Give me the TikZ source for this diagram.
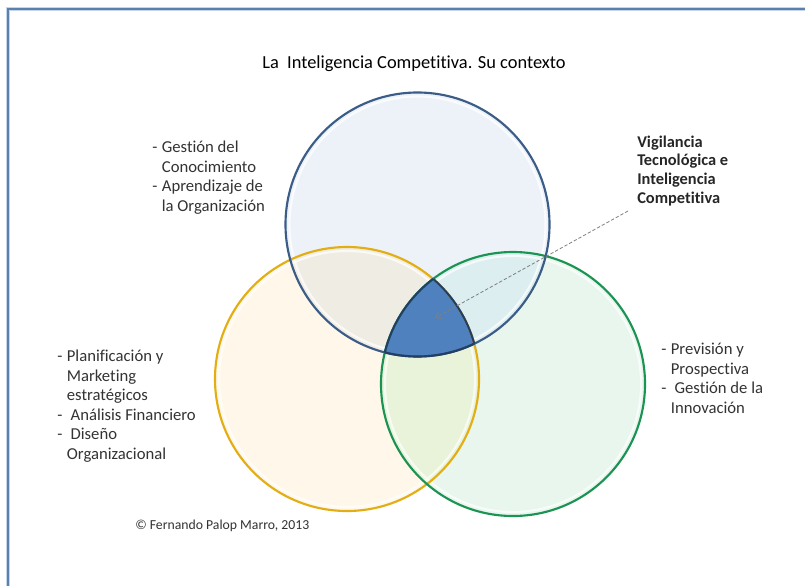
\documentclass[tikz,border=0pt]{standalone}
\usepackage{fontspec}
\setmainfont{Carlito}[Ligatures=CommonOff]
\usetikzlibrary{arrows.meta}
\definecolor{bluefill}{HTML}{EDF2F9}
\definecolor{bluerim}{HTML}{AFC4DF}
\definecolor{blueline}{HTML}{3A5C87}
\definecolor{yelfill}{HTML}{FFF8EA}
\definecolor{yelrim}{HTML}{F6D77A}
\definecolor{yelline}{HTML}{E2AE14}
\definecolor{grnfill}{HTML}{E8F6EE}
\definecolor{grnrim}{HTML}{A6DABB}
\definecolor{grnline}{HTML}{1B9352}
\definecolor{byfill}{HTML}{EFEDE3}
\definecolor{bgfill}{HTML}{DCEEF0}
\definecolor{ygfill}{HTML}{E8F3DA}
\definecolor{corefill}{HTML}{4F81BF}
\definecolor{coreline}{HTML}{243F66}
\definecolor{framecol}{HTML}{5B80AE}
\definecolor{framelight}{HTML}{C5D5EA}
\definecolor{txtcol}{HTML}{333333}
\definecolor{arrowcol}{HTML}{7F7F7F}
\pgfdeclareradialshading{blueshade}{\pgfpoint{0bp}{0bp}}{color(0bp)=(bluefill); color(40bp)=(bluefill); color(48bp)=(bluerim); color(50bp)=(bluerim)}
\pgfdeclareradialshading{yelshade}{\pgfpoint{0bp}{0bp}}{color(0bp)=(yelfill); color(40bp)=(yelfill); color(48bp)=(yelrim); color(50bp)=(yelrim)}
\pgfdeclareradialshading{grnshade}{\pgfpoint{0bp}{0bp}}{color(0bp)=(grnfill); color(40bp)=(grnfill); color(48bp)=(grnrim); color(50bp)=(grnrim)}
\tikzset{
  lbl/.style={anchor=north west, inner sep=0pt, align=left, text=txtcol, font=\fontsize{12.5}{14.6}\selectfont},
  boldlbl/.style={lbl, text=black!85, font=\bfseries\fontsize{12.3}{14}\selectfont},
  ttl/.style={anchor=base, inner sep=0pt, text=black, font=\fontsize{13.8}{16}\selectfont},
  cpy/.style={anchor=base west, inner sep=0pt, text=txtcol, font=\fontsize{10.3}{12}\selectfont},
  ring/.style={line width=1.6pt},
  glow/.style={white, line width=1.6pt, opacity=0.7},
  pointer/.style={arrowcol, line width=0.6pt, dash pattern=on 2.5pt off 1.5pt, -{Straight Barb[length=4pt,width=6pt]}}
}
\newcommand{\dsh}{\makebox[7.2pt][l]{-}}
\newcommand{\ind}{\hspace*{7.2pt}}
\begin{document}
\begin{tikzpicture}[x=0.75pt,y=-0.75pt]
\useasboundingbox (0,0) rectangle (805,585);
\clip (0,0) rectangle (805,585);
\fill[white] (0,0) rectangle (805,585);
% frame
\draw[framelight, line width=3pt] (8,9) rectangle (830,610);
\draw[framecol, line width=1.3pt] (8,9) rectangle (830,610);
% centres
\coordinate (cb) at (417.5,224.5);
\coordinate (cy) at (347,379);
\coordinate (cg) at (513,384);
\def\R{132}
% base fills
\shade[shading=yelshade] (cy) circle (\R);
\shade[shading=grnshade] (cg) circle (\R);
\shade[shading=blueshade] (cb) circle (\R);
% pairwise overlaps
\begin{scope}
  \clip (cb) circle (\R);
  \fill[byfill] (cy) circle (\R);
  \fill[bgfill] (cg) circle (\R);
\end{scope}
\begin{scope}
  \clip (cy) circle (\R);
  \fill[ygfill] (cg) circle (\R);
\end{scope}
% glossy inner rings
\draw[glow] (cy) circle (\R-4);
\draw[glow] (cg) circle (\R-4);
\draw[glow] (cb) circle (\R-4);
% triple overlap
\begin{scope}
  \clip (cb) circle (\R);
  \clip (cy) circle (\R);
  \fill[corefill] (cg) circle (\R);
\end{scope}
% outlines
\draw[ring, yelline] (cy) circle (\R);
\draw[ring, grnline] (cg) circle (\R);
\draw[ring, blueline] (cb) circle (\R);
\begin{scope}
  \clip (cb) circle (\R);
  \clip (cy) circle (\R);
  \draw[ring, coreline] (cg) circle (\R);
\end{scope}
\begin{scope}
  \clip (cb) circle (\R);
  \clip (cg) circle (\R);
  \draw[ring, coreline] (cy) circle (\R);
\end{scope}
\begin{scope}
  \clip (cy) circle (\R);
  \clip (cg) circle (\R);
  \draw[ring, coreline] (cb) circle (\R);
\end{scope}
% texts
\node[ttl] (title) at (414,69) {La\ \ Inteligencia Competitiva. Su contexto};
\node[lbl] (gest) at (152,141) {\dsh Gestión del\\\ind Conocimiento\\\dsh Aprendizaje de\\\ind la Organización};
\node[boldlbl] (vig) at (637,135.5) {Vigilancia\\Tecnológica e\\Inteligencia\\Competitiva};
\node[lbl] (plan) at (57,350) {\dsh Planificación y\\\ind Marketing\\\ind estratégicos\\\dsh\ Análisis Financiero\\\dsh\ Diseño\\\ind Organizacional};
\node[lbl] (prev) at (661,343) {\dsh Previsión y\\\ind Prospectiva\\\dsh\ Gestión de la\\\ind Innovación};
\node[cpy] (copy) at (135,529) {© Fernando Palop Marro, 2013};
% pointer
\coordinate (ptrstart) at (628,211);
\coordinate (ptrend) at (435,318);
\draw[pointer] (ptrstart) -- (ptrend);
\end{tikzpicture}
\end{document}
